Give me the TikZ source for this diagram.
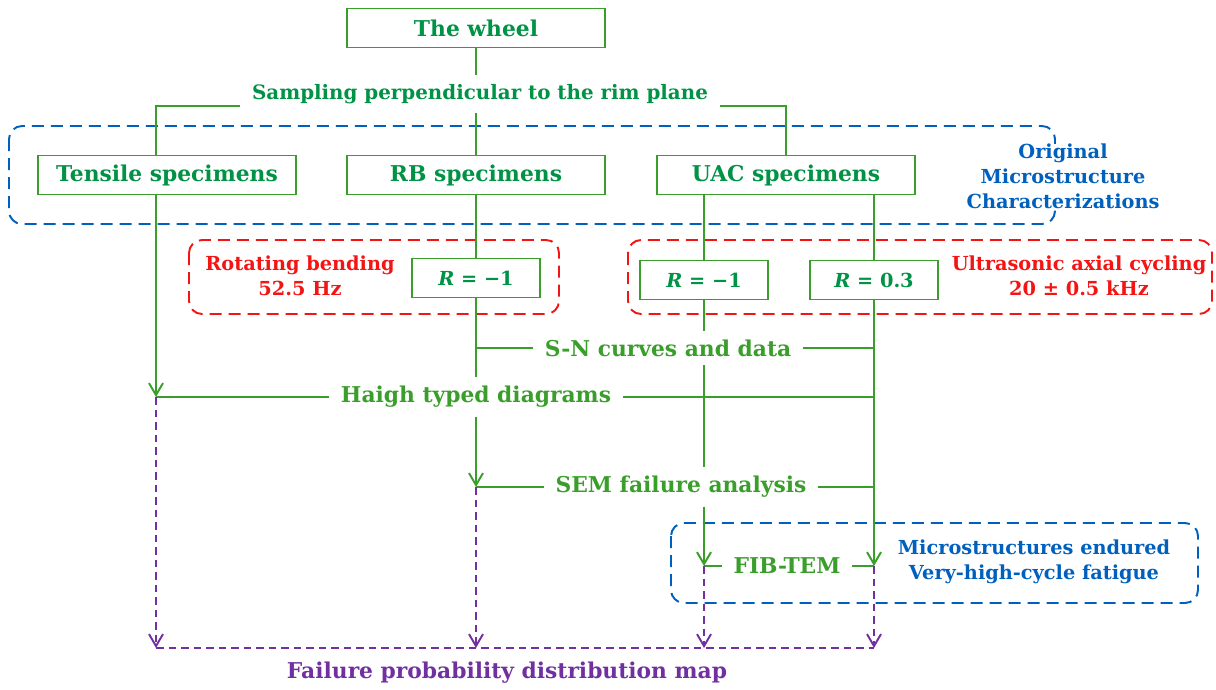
\documentclass[tikz,border=0pt]{standalone}
\usepackage{fontspec}
\setmainfont{DejaVu Serif}
\usetikzlibrary{arrows.meta}

\definecolor{wheelgreen}{RGB}{0,146,69}
\definecolor{linegreen}{RGB}{57,158,42}
\definecolor{groupblue}{RGB}{0,96,190}
\definecolor{testred}{RGB}{245,20,20}
\definecolor{resultpurple}{RGB}{112,48,160}

\begin{document}
\begin{tikzpicture}[x=0.2mm, y=-0.2mm, line width=1.1pt,
    font=\bfseries\fontsize{11}{14.2}\selectfont,
    big/.style={font=\bfseries\fontsize{12.4}{15}\selectfont},
    main node/.style={big, draw=linegreen, text=wheelgreen, minimum width=5.16cm,
                      minimum height=0.78cm, inner sep=0pt},
    r node/.style={draw=linegreen, text=wheelgreen, minimum width=2.56cm,
                   minimum height=0.78cm, inner sep=0pt},
    flow text/.style={big, text=linegreen, inner xsep=2.2mm, inner ysep=1.6mm},
    note/.style={align=center},
    link/.style={draw=linegreen},
    arr/.style={link, -{Straight Barb[length=2.4mm,width=2.8mm]}},
    result/.style={draw=resultpurple, dash pattern=on 1.5mm off 1mm},
    group/.style={rounded corners=2.6mm, dash pattern=on 2.4mm off 1.4mm}]
  \useasboundingbox (0,0) rectangle (1216,689);

  % dashed groups
  \draw[group, draw=groupblue] (9,126) rectangle (1055,224);
  \draw[group, draw=testred] (189,240) rectangle (559,314);
  \draw[group, draw=testred] (628,240) rectangle (1212,314);
  \draw[group, draw=groupblue] (671,523) rectangle (1198,603);

  % boxes and labels
  \node[main node] (wheel) at (476,28) {The wheel};
  \node[flow text, font=\bfseries\fontsize{11.3}{14}\selectfont, text=wheelgreen] (sampling) at (480,94) {Sampling perpendicular to the rim plane};
  \node[main node] (tensile) at (167,175) {Tensile specimens};
  \node[main node] (rb) at (476,175) {RB specimens};
  \node[main node] (uac) at (786,175) {UAC specimens};
  \node[note, text=groupblue, fill=white, inner sep=0pt] (orig) at (1063,176) {Original\\Microstructure\\Characterizations};
  \node[r node] (rbr) at (476,278) {\textit{R} = −1};
  \node[r node] (uacr1) at (704,280) {\textit{R} = −1};
  \node[r node] (uacr3) at (874,280) {\textit{R} = 0.3};
  \node[note, text=testred] (rot) at (300,276) {Rotating bending\\52.5 Hz};
  \node[note, text=testred] (ultra) at (1079,276) {Ultrasonic axial cycling\\20 ± 0.5 kHz};
  \node[flow text] (sn) at (668,348) {S-N curves and data};
  \node[flow text] (haigh) at (476,397) {Haigh typed diagrams};
  \node[flow text] (sem) at (681,487) {SEM failure analysis};
  \node[flow text] (fib) at (787,566) {FIB-TEM};
  \node[note, text=groupblue] (micro) at (1034,562) {Microstructures endured\\Very-high-cycle fatigue};
  \node[big, text=resultpurple] (fail) at (507,673) {Failure probability distribution map};
  \coordinate (tcol) at ([xshift=-2.2mm]tensile.south);
  \coordinate (mapline) at (507,648);

  % sampling
  \draw[link] (wheel) -- (wheel |- sampling.north);
  \draw[link] (rb |- sampling.south) -- (rb);
  \draw[link] ([yshift=-2.4mm]sampling.west) -| (tcol |- tensile.north);
  \draw[link] ([yshift=-2.4mm]sampling.east) -| (uac);

  % tensile and rotating bending
  \draw[arr] (tcol) -- (tcol |- haigh);
  \draw[link] (tcol |- haigh) -- (haigh);
  \draw[link] (haigh) -- (haigh -| uacr3);
  \draw[link] (rb) -- (rbr);
  \draw[link] (rbr) -- (rbr |- haigh.north);
  \draw[link] (sn) -- (sn -| rbr);
  \draw[arr] (rbr |- haigh.south) -- (rbr |- sem);
  \draw[link] (sem) -- (sem -| rbr);

  % ultrasonic axial cycling
  \draw[link] (uac.south -| uacr1) -- (uacr1);
  \draw[link] (uac.south -| uacr3) -- (uacr3);
  \draw[link] (uacr1) -- (uacr1 |- sn.north);
  \draw[link] (uacr1 |- sn.south) -- (uacr1 |- sem.north);
  \draw[arr] (uacr1 |- sem.south) -- (uacr1 |- fib);
  \draw[arr] (uacr3) -- (uacr3 |- fib);
  \draw[link] (sn) -- (sn -| uacr3);
  \draw[link] (sem) -- (sem -| uacr3);
  \draw[link] (fib) -- (fib -| uacr1);
  \draw[link] (fib) -- (fib -| uacr3);

  % failure probability
  \draw[result, arr, draw=resultpurple] (tcol |- haigh) -- (tcol |- mapline);
  \draw[result, arr, draw=resultpurple] (rbr |- sem) -- (rbr |- mapline);
  \draw[result, arr, draw=resultpurple] (uacr1 |- fib) -- (uacr1 |- mapline);
  \draw[result, arr, draw=resultpurple] (uacr3 |- fib) -- (uacr3 |- mapline);
  \draw[result] (tcol |- mapline) -- (uacr3 |- mapline);
\end{tikzpicture}
\end{document}
